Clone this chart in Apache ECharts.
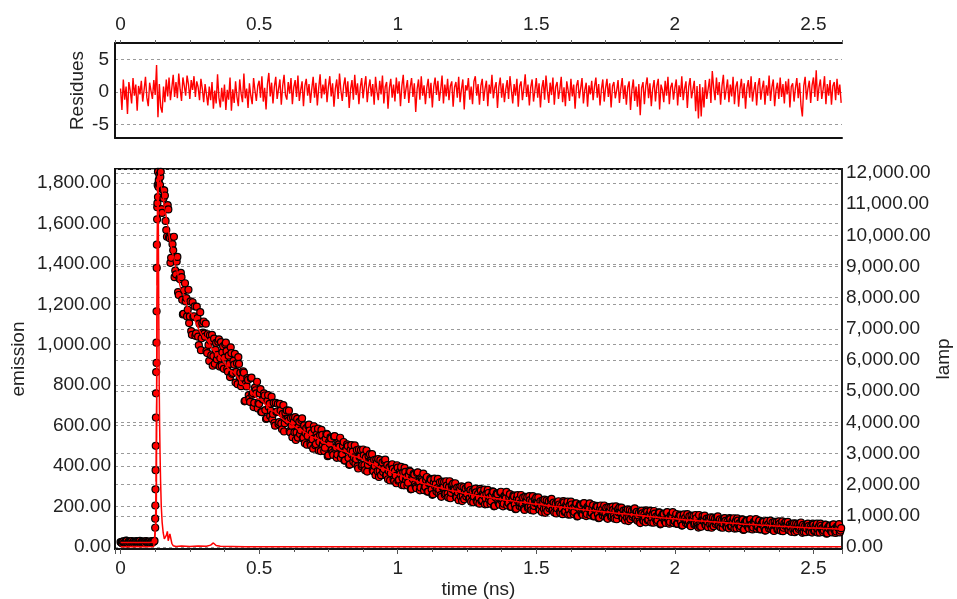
<!DOCTYPE html>
<html>
<head>
<meta charset="utf-8">
<script src="https://cdn.jsdelivr.net/npm/echarts@6/dist/echarts.min.js"></script>
<style>
html,body{margin:0;padding:0;background:#fff;}
#chart{width:957px;height:599px;}
</style>
</head>
<body>
<div id="chart"></div>
<script>
// time channel grid (ns)
const T_STEP = 0.005;
const T_ODD0 = 0.0025;
const topTickLabels = ['0', '0.5', '1', '1.5', '2', '2.5'];

// emission counts, channels t = 0, 0.005, ... 2.600
const emission = [
 24,19,28,22,31,17,26,21,29,23,18,27,25,20,30,22,26,19,28,24,
 21,27,23,29,26,95,910,1730,1840,1855,1652,1724,1738,1567,1690,1531,1405,1528,1467,1334,
 1348,1434,1246,1324,1334,1150,1270,1214,1140,1272,1140,1067,1210,1141,1044,1188,1040,1104,973,1106,
 1115,1040,969,1052,920,1020,1049,944,906,1009,950,1027,933,895,992,936,1010,880,946,840,
 959,861,902,813,908,939,842,795,837,862,723,794,826,733,834,753,692,788,760,685,
 708,781,667,731,749,633,722,692,648,743,658,613,713,670,608,708,611,658,571,663,
 675,624,573,637,543,619,642,567,541,619,577,636,540,513,587,549,605,511,563,486,
 581,509,542,477,552,579,507,474,535,557,453,510,537,466,546,485,441,516,496,440,
 458,519,428,482,499,406,480,457,423,502,435,399,482,448,399,482,404,442,373,449,
 459,418,379,430,355,416,435,376,355,418,385,432,356,335,394,364,409,334,375,315,
 392,332,361,306,369,391,332,304,355,373,287,335,358,299,366,316,280,342,326,281,
 297,346,274,317,332,258,318,300,274,337,284,256,323,297,258,325,264,296,241,304,
 313,281,249,293,231,283,300,252,236,289,263,303,241,224,275,250,289,228,263,214,
 279,231,254,211,263,282,235,214,256,272,203,242,261,215,270,230,201,253,241,205,
 218,261,199,238,250,187,239,225,202,257,213,190,248,226,193,251,198,226,180,233,
 244,215,188,226,173,219,234,192,178,225,203,238,184,170,214,192,226,174,205,162,
 220,177,199,160,206,224,182,162,201,215,153,189,206,164,214,179,153,199,188,156,
 169,207,152,187,199,142,189,176,156,205,166,145,197,178,148,200,153,179,137,185,
 195,169,144,180,132,172,186,149,137,179,159,191,141,130,169,118,180,133,161,122,
 175,136,155,121,163,178,139,123,157,170,115,147,162,125,170,138,115,156,148,118,
 129,163,115,145,155,106,147,135,118,162,127,108,155,137,111,158,116,96,102,100,
 153,130,110,140,98,134,147,114,103,140,123,151,108,97,133,115,143,101,126,92,
 138,104,121,91,128,141,108,93,124,135,87,115,129,97,135,108,87,124,116,90,
 101,130,88,114,124,81,117,107,91,130,100,83,124,108,86,127,90,110,78,116,
 123,103,85,111,75,107,117,89,79,112,97,121,70,75,105,91,115,78,100,71,
 111,82,97,71,102,115,86,73,100,110,68,92,104,77,110,86,69,101,94,72,93
];

// emission counts, interleaved channels t = 0.0025, 0.0075, ... 2.5975
const emissionOdd = [
 22,27,18,25,30,20,24,28,19,26,23,29,21,25,18,27,24,20,29,23,
 25,20,28,24,30,640,1680,1800,1790,1671,1765,1763,1612,1534,1669,1526,1430,1497,1534,1366,
 1411,1260,1328,1355,1222,1153,1304,1231,1173,1107,1214,1049,1138,1190,1056,1132,998,1161,1032,1060,
 1055,1104,959,999,1047,948,896,1030,975,928,1015,892,1013,962,881,1002,968,867,905,987,
 856,920,955,866,805,905,862,815,869,720,809,835,751,717,837,761,713,775,817,712,
 759,667,729,760,677,636,751,708,673,632,713,600,667,708,617,674,582,701,612,634,
 633,674,566,600,639,567,529,633,594,559,628,537,601,564,506,600,576,502,533,597,
 503,556,585,519,474,554,524,491,560,449,520,542,479,455,548,492,457,507,540,461,
 500,427,479,507,440,408,504,471,443,412,479,388,445,479,406,453,380,477,406,425,
 426,459,374,401,432,375,346,429,398,371,426,353,405,376,329,405,386,327,352,404,
 328,371,396,341,305,371,346,318,377,285,343,362,311,291,369,323,294,335,363,299,
 331,273,315,337,285,261,338,311,291,266,320,248,294,322,264,303,245,325,268,285,
 286,315,245,269,295,249,227,296,272,250,297,238,281,258,221,284,270,222,244,287,
 227,263,284,241,212,267,247,226,275,201,249,265,224,209,273,237,214,249,272,220,
 247,198,235,255,210,189,256,234,216,197,244,183,223,247,198,232,182,251,203,218,
 220,245,184,205,229,189,169,230,209,191,232,181,219,199,166,222,210,168,188,227,
 173,206,224,185,160,210,192,173,216,151,194,209,171,159,217,183,163,195,216,169,
 195,151,185,203,162,144,205,185,169,151,194,139,175,197,153,183,140,201,158,171,
 173,195,142,160,182,145,128,183,164,149,185,139,174,156,126,176,166,128,145,181,
 132,161,179,144,120,165,150,132,171,112,152,164,132,119,172,142,124,153,172,130,
 153,114,143,160,124,107,161,144,129,114,151,103,135,154,116,142,104,158,121,132,
 135,155,106,124,142,111,95,145,128,114,146,106,136,121,95,140,129,97,112,143,
 101,127,142,112,92,130,117,102,137,84,120,131,102,91,137,111,96,120,138,101,
 122,87,113,127,96,82,129,113,102,88,121,79,106,124,90,114,80,127,95,105,
 107,124,83,97,114,86,73,115,101,89,117,82,109,95,73,112,103,75,89,115,
 79,102,115,88,71,105,93,81,111,66,96,106,81,72,112,90,77,98,113,81
];

// extra channels read on the steep rising edge
const riseTimes  = [0.1250,0.1255,0.1260,0.1265,0.1270,0.1280,0.1285,0.1295,0.1300,0.1305,0.1310,0.1320,0.1330,0.1340,0.1350,0.1370,0.1380,0.1435];
const riseValues = [140,205,285,380,500,760,865,1010,1165,1380,1495,1620,1700,1790,1855,1780,1815,1830];

// fitted decay curve
const fitTimes = [0,0.05,0.10,0.122,0.126,0.128,0.130,0.132,0.134,0.136,0.138,0.140,0.145,0.15,0.16,0.17,0.18,0.19,0.20,0.22,0.25,
 0.30,0.35,0.40,0.45,0.50,0.55,0.60,0.65,0.70,0.75,0.80,0.85,0.90,0.95,1.00,1.05,1.10,1.15,1.20,1.25,1.30,1.35,1.40,1.45,1.50,
 1.55,1.60,1.65,1.70,1.75,1.80,1.85,1.90,1.95,2.00,2.05,2.10,2.15,2.20,2.25,2.30,2.35,2.40,2.45,2.50,2.55,2.60];
const fitValues = [22,22,22,24,90,320,780,1290,1640,1800,1845,1835,1800,1760,1670,1590,1500,1440,1380,1270,1160,
 1040,950,870,795,730,672,620,577,540,508,476,446,415,385,358,333,311,293,277,263,251,240,230,221,212,
 203,195,187,180,173,166,159,152,145,139,133,128,123,118,113,109,105,101,97,94,91,88];

// lamp (instrument response), right axis
const lampTimes  = [0,0.05,0.10,0.12,0.126,0.129,0.1305,0.132,0.1335,0.135,0.1365,0.138,0.1395,0.141,0.1425,0.1445,0.147,0.150,0.154,0.158,0.162,0.1655,0.169,0.172,0.175,0.178,0.181,0.185,0.19,0.20,0.22,0.25,0.28,0.31,0.325,0.335,0.345,0.36,0.40,0.45,0.50,1.0,1.5,2.0,2.6];
const lampValues = [10,15,10,20,60,900,4200,8800,11600,11900,10200,7400,5200,3900,3000,2100,1300,800,450,260,200,380,500,200,160,420,460,120,40,15,30,20,35,25,60,130,50,25,20,10,5,5,5,5,5];

// weighted residues, one per 0.005 ns channel
const residues = [
 0.5,-2.8,1.9,-1.2,0.8,-3.4,1.5,0.2,-1.8,2.1,-0.6,1.1,-2.9,0.9,-0.4,1.7,-1.5,0.3,2.3,-0.9,
 -2.2,1.4,0.1,-1.1,1.8,-0.5,4.1,-3.9,1.2,-2.4,-3.2,0.8,-1.6,1.9,-0.7,2.2,-1.3,0.6,2.6,-0.8,
 1.5,-1.0,2.8,0.4,-1.4,2.2,0.9,-0.6,2.5,1.2,-1.1,1.8,0.3,2.4,-0.8,1.6,0.7,-1.3,2.0,0.5,
 -1.6,1.2,-0.4,-2.1,0.8,-1.3,1.5,-2.6,0.2,-1.8,2.7,-0.9,-2.4,0.6,-1.5,1.1,-2.8,0.3,-1.2,2.2,
 -2.9,0.4,-1.7,1.6,-0.8,-2.2,1.9,-0.3,-1.6,2.8,-1.0,0.5,-2.5,1.3,-0.6,-1.9,2.1,0.2,-1.4,0.9,
 1.7,-0.9,2.4,-1.5,0.6,-2.7,1.2,2.9,-0.7,1.4,-1.8,0.8,2.3,-1.1,0.4,1.9,-2.0,0.9,2.6,-0.5,
 -1.2,1.5,-0.3,2.1,-1.9,0.7,1.8,-0.8,2.5,-1.4,0.3,1.6,-2.2,0.9,2.0,-0.6,1.2,-1.7,0.5,2.3,
 -0.9,1.4,-2.1,0.6,2.7,-1.0,1.1,-0.4,2.0,-1.6,0.8,2.4,-0.7,1.3,-2.3,0.5,1.9,-1.1,2.8,0.2,
 -1.4,1.0,2.2,-0.8,1.6,-2.5,0.4,1.8,-1.2,2.6,-0.5,1.3,-1.9,0.7,2.1,-1.0,0.9,2.4,-1.6,0.6,
 1.9,-0.7,1.2,-2.0,2.3,0.1,-1.3,1.7,-0.4,2.5,-1.8,0.8,1.5,-2.6,0.6,2.0,-0.9,1.1,-1.5,2.2,
 -0.3,1.6,-2.2,0.9,2.6,-1.1,0.5,1.8,-1.7,0.7,2.1,-0.8,1.3,-3.1,0.4,1.9,-1.2,2.4,-0.6,1.0,
 -1.9,0.6,2.0,-1.0,1.4,-2.4,0.8,2.2,-0.5,1.7,-1.4,0.3,2.5,-1.8,1.1,-0.7,2.0,-1.3,0.9,1.6,
 -2.3,0.7,1.5,-0.9,2.3,-1.6,0.4,1.9,-2.7,1.0,0.2,2.1,-1.2,0.8,-1.9,1.6,2.4,-0.6,1.2,-2.0,
 0.9,2.0,-1.4,0.5,1.7,-2.2,1.1,-0.3,2.6,-1.0,0.6,1.5,-2.5,0.8,2.2,-0.9,1.3,-1.6,0.4,1.8,
 -1.1,2.4,0.3,-1.8,1.2,-0.6,2.0,-2.3,0.9,1.6,-1.3,0.5,2.7,-0.8,1.1,-2.1,0.7,1.9,-1.5,0.2,
 2.1,-0.9,1.3,-2.4,0.6,1.8,-1.2,2.5,0.1,-1.7,1.4,-0.5,2.2,-2.0,0.8,1.5,-1.1,0.4,2.3,-1.6,
 0.7,-2.2,1.6,0.2,-1.4,2.0,-0.7,1.1,-2.6,0.9,1.8,-1.0,0.5,2.1,-1.8,0.3,1.4,-2.3,1.0,-0.4,
 1.7,-1.3,0.8,2.2,-0.9,1.2,-2.1,0.4,1.9,-1.5,0.6,2.0,-0.8,1.3,-2.4,0.9,1.5,-1.0,0.2,1.8,
 -1.7,0.5,2.1,-1.1,1.0,-2.0,0.7,1.6,-2.8,0.3,1.9,-1.4,0.8,-2.3,1.2,-3.6,0.6,1.5,-1.9,0.9,
 2.2,-1.0,1.3,-2.2,0.5,1.8,-1.5,0.9,2.0,-2.7,1.1,0.3,-1.6,1.7,-0.6,2.3,-1.9,0.7,1.4,-1.2,
 0.6,1.9,-2.1,1.0,-0.8,2.4,-1.3,0.5,1.6,-2.5,0.8,2.1,-1.0,0.3,1.7,-3.0,0.9,-4.1,1.2,-3.8,
 0.7,-2.4,1.8,-1.1,0.4,2.0,-1.7,3.2,0.6,-1.3,2.2,-0.5,1.5,-2.0,0.9,2.6,-1.2,0.3,1.9,-1.6,
 1.1,-0.7,2.3,-1.9,0.8,1.6,-2.3,0.4,2.0,-1.0,1.3,-2.6,0.6,1.8,-0.9,2.4,-1.5,0.2,1.5,-2.1,
 0.9,2.1,-1.2,0.5,1.7,-2.0,1.0,-0.6,2.5,-1.4,0.7,1.9,-2.2,0.3,1.4,-1.1,2.2,-0.8,1.2,-1.8,
 1.6,-0.4,2.0,-2.4,0.8,1.3,-1.5,0.6,2.1,-1.0,1.4,-2.1,-3.8,0.9,2.3,-1.2,0.5,1.7,-1.7,1.0,
 2.2,-0.8,3.3,-1.4,0.7,1.9,-1.1,0.4,2.4,-1.9,1.2,-0.6,1.8,-2.0,0.9,1.5,-1.3,2.0,-0.5,1.1,-1.7
];

// ---- build series data ----
const chan = i => +(i * T_STEP).toFixed(4);
const chanOdd = i => +(T_ODD0 + i * T_STEP).toFixed(4);
const emissionPts = emission.map((v, i) => [chan(i), v])
  .concat(emissionOdd.map((v, i) => [chanOdd(i), v]))
  .concat(riseTimes.map((t, i) => [t, riseValues[i]]))
  .sort((a, b) => a[0] - b[0]);
const fitPts = fitTimes.map((t, i) => [t, fitValues[i]]);
const lampPts = lampTimes.map((t, i) => [t, lampValues[i]]);
const residPts = residues.map((v, i) => [chan(i), v]);

const FONT = 'Liberation Sans, Arial, sans-serif';
const TXT = '#222';
const fmt2 = v => v.toLocaleString('en-US', {minimumFractionDigits: 2, maximumFractionDigits: 2});
const dashed = {show: true, lineStyle: {color: '#9a9a9a', type: [3, 3], width: 1}};
const X_MIN = -0.02, X_MAX = 2.603;
const blackLine = {show: true, onZero: false, lineStyle: {color: '#111', width: 2}};
const nameStyle = {fontSize: 19, color: TXT, fontFamily: FONT};

const chart = echarts.init(document.getElementById('chart'));
chart.setOption({
  animation: false,
  backgroundColor: '#fff',
  textStyle: {fontFamily: FONT},
  grid: [
    {left: 115, right: 115, top: 43, height: 95, outerBoundsMode: 'none', containLabel: false},
    {left: 115, right: 115, top: 169, height: 380, outerBoundsMode: 'none', containLabel: false,
     show: true, borderColor: '#111', borderWidth: 2}
  ],
  xAxis: [
    {
      gridIndex: 0, type: 'value', position: 'top', min: X_MIN, max: X_MAX, splitNumber: 5,
      axisLine: blackLine,
      axisTick: {show: true, length: 3, lineStyle: {color: '#666'}},
      minorTick: {show: true, splitNumber: 4, length: 3, lineStyle: {color: '#666'}},
      axisLabel: {fontSize: 19, color: TXT, fontFamily: FONT, margin: 9, showMinLabel: false, showMaxLabel: false,
        formatter: v => { const s = String(+v.toFixed(2)); return topTickLabels.includes(s) ? s : ''; }},
      splitLine: {show: false}
    },
    {
      gridIndex: 0, type: 'value', position: 'bottom', min: X_MIN, max: X_MAX,
      axisLine: blackLine,
      axisTick: {show: false}, axisLabel: {show: false}, splitLine: {show: false}
    },
    {
      gridIndex: 1, type: 'value', position: 'bottom', min: X_MIN, max: X_MAX, splitNumber: 5,
      name: 'time (ns)', nameLocation: 'middle', nameGap: 31, nameMoveOverlap: false,
      nameTextStyle: nameStyle,
      axisLine: blackLine,
      axisTick: {show: true, length: 5, lineStyle: {color: '#555'}},
      minorTick: {show: true, splitNumber: 4, length: 3, lineStyle: {color: '#555'}},
      axisLabel: {fontSize: 19, color: TXT, fontFamily: FONT, margin: 10, showMinLabel: false, showMaxLabel: false},
      splitLine: {show: false}
    }
  ],
  yAxis: [
    {
      gridIndex: 0, type: 'value', min: -7.1, max: 7.5, splitNumber: 3,
      name: 'Residues', nameLocation: 'middle', nameGap: 28, nameMoveOverlap: false,
      nameTextStyle: nameStyle,
      axisLine: blackLine,
      axisTick: {show: false},
      axisLabel: {fontSize: 19, color: TXT, fontFamily: FONT, margin: 6, showMinLabel: false, showMaxLabel: false},
      splitLine: dashed
    },
    {
      gridIndex: 1, type: 'value', position: 'left', min: -10, max: 1869, splitNumber: 9,
      name: 'emission', nameLocation: 'middle', nameGap: 87, nameMoveOverlap: false,
      nameTextStyle: nameStyle,
      axisLine: blackLine,
      axisTick: {show: false},
      axisLabel: {fontSize: 19, color: TXT, fontFamily: FONT, margin: 4, showMinLabel: false, showMaxLabel: false, formatter: fmt2},
      splitLine: dashed
    },
    {
      gridIndex: 1, type: 'value', position: 'right', min: -64, max: 12128, splitNumber: 12,
      name: 'lamp', nameLocation: 'middle', nameGap: 92, nameMoveOverlap: false,
      nameTextStyle: nameStyle,
      axisLine: {show: true, onZero: false, lineStyle: {color: '#222', width: 2}},
      axisTick: {show: false},
      axisLabel: {fontSize: 19, color: TXT, fontFamily: FONT, margin: 4, showMinLabel: false, showMaxLabel: false, formatter: fmt2},
      splitLine: dashed
    }
  ],
  series: [
    {
      name: 'Residues', type: 'line', xAxisIndex: 0, yAxisIndex: 0, data: residPts,
      symbol: 'none', lineStyle: {color: '#ff0000', width: 1.4}, z: 3
    },
    {
      name: 'emission', type: 'scatter', xAxisIndex: 2, yAxisIndex: 1, data: emissionPts,
      symbol: 'circle', symbolSize: 7,
      itemStyle: {color: '#ff0000', borderColor: '#000', borderWidth: 1.2, opacity: 1}, z: 2
    },
    {
      name: 'fit', type: 'line', xAxisIndex: 2, yAxisIndex: 1, data: fitPts,
      symbol: 'none', smooth: 0.3, smoothMonotone: 'x',
      lineStyle: {color: '#ff0000', width: 1.5}, z: 4
    },
    {
      name: 'lamp', type: 'line', xAxisIndex: 2, yAxisIndex: 2, data: lampPts,
      symbol: 'none', lineStyle: {color: '#ff0000', width: 1.5}, z: 5
    }
  ]
});
</script>
</body>
</html>
